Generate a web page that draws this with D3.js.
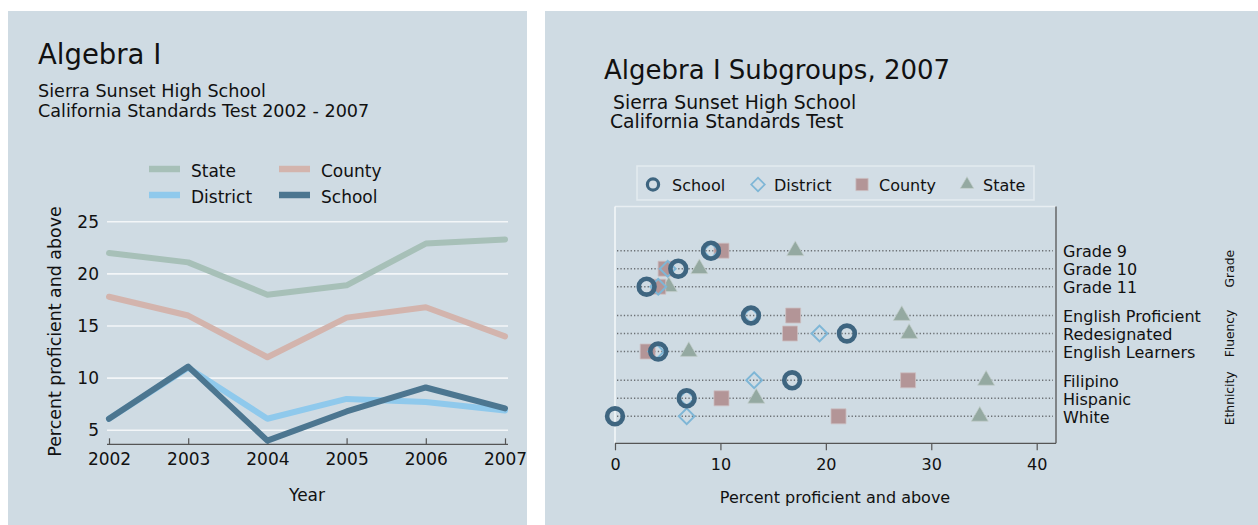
<!DOCTYPE html>
<html>
<head>
<meta charset="utf-8">
<script src="https://cdn.jsdelivr.net/npm/d3@7"></script>
<style>
  html, body { margin: 0; padding: 0; background: #fff; }
  svg { display: block; font-family: "DejaVu Sans", sans-serif; }
</style>
</head>
<body>
<div id="chart"></div>
<script>
// left chart: trend lines
const years = [2002, 2003, 2004, 2005, 2006, 2007];
const stateVals = [22.0, 21.1, 18.0, 18.9, 22.9, 23.3];
const countyVals = [17.8, 16.0, 12.0, 15.8, 16.8, 14.0];
const districtVals = [6.1, 11.0, 6.1, 8.0, 7.7, 6.9];
const schoolVals = [6.1, 11.1, 4.0, 6.8, 9.1, 7.1];
const yTicks = [5, 10, 15, 20, 25];

// right chart: subgroups 2007
const groupNames = ['Grade', 'Fluency', 'Ethnicity'];
const subgroups = ['Grade 9', 'Grade 10', 'Grade 11',
  'English Proficient', 'Redesignated', 'English Learners',
  'Filipino', 'Hispanic', 'White'];
const subgroupGroup = [0, 0, 0, 1, 1, 1, 2, 2, 2];
const schoolPct = [9.1, 6.0, 3.0, 12.9, 22.0, 4.1, 16.8, 6.8, 0.0];
const districtPct = [9.1, 5.0, 4.1, 12.9, 19.4, 3.9, 13.2, 6.8, 6.8];
const countyPct = [10.1, 4.8, 4.1, 16.9, 16.6, 3.1, 27.8, 10.1, 21.2];
const statePct = [17.1, 8.0, 5.1, 27.2, 27.9, 7.0, 35.2, 13.4, 34.6];
const xTicks = [0, 10, 20, 30, 40];

const bg = '#cfdbe3';
const ink = '#111';

const svg = d3.select('#chart').append('svg')
  .attr('width', 1258)
  .attr('height', 525);

svg.append('rect').attr('x', 8).attr('y', 11).attr('width', 519).attr('height', 514).attr('fill', bg);
svg.append('rect').attr('x', 545).attr('y', 11).attr('width', 713).attr('height', 514).attr('fill', bg);

/* ---------- left panel ---------- */
const left = svg.append('g');

left.append('text').attr('x', 38).attr('y', 64)
  .attr('font-size', 27.5).attr('fill', ink).text('Algebra I');
left.append('text').attr('x', 38).attr('y', 97)
  .attr('font-size', 17.6).attr('fill', ink).text('Sierra Sunset High School');
left.append('text').attr('x', 38).attr('y', 117)
  .attr('font-size', 17.6).attr('fill', ink).text('California Standards Test 2002 - 2007');

const x = d3.scaleLinear().domain([2002, 2007]).range([109, 505]);
const y = d3.scaleLinear().domain([3.65, 25]).range([444.3, 221.7]);

left.append('g')
  .selectAll('line')
  .data(yTicks)
  .enter()
  .append('line')
  .attr('x1', 107).attr('x2', 508)
  .attr('y1', (d) => y(d)).attr('y2', (d) => y(d))
  .attr('stroke', '#f3f6f8')
  .attr('stroke-width', 1.6);

const yAxis = left.append('g')
  .attr('transform', 'translate(107,0)')
  .call(d3.axisLeft(y).tickValues(yTicks).tickSize(0).tickPadding(8));
yAxis.select('.domain').remove();
yAxis.selectAll('text').attr('font-size', 17).attr('fill', ink).attr('font-family', 'DejaVu Sans');

const xAxis = left.append('g')
  .attr('transform', 'translate(0,444.3)')
  .call(d3.axisBottom(x).tickValues(years).tickFormat(d3.format('d')).tickSizeInner(-6).tickSizeOuter(0).tickPadding(8.5));
xAxis.select('.domain').attr('d', 'M107,0H508').attr('stroke', '#555').attr('stroke-width', 1.3);
xAxis.selectAll('.tick line').attr('stroke', '#555').attr('stroke-width', 1.2);
xAxis.selectAll('text').attr('font-size', 17).attr('fill', ink).attr('font-family', 'DejaVu Sans');

left.append('text')
  .attr('transform', 'translate(61,331.5) rotate(-90)')
  .attr('text-anchor', 'middle')
  .attr('font-size', 17.4).attr('fill', ink)
  .text('Percent proficient and above');
left.append('text').attr('x', 307).attr('y', 501)
  .attr('text-anchor', 'middle').attr('font-size', 17).attr('fill', ink).text('Year');

const lineSeries = [
  { name: 'State', values: stateVals, color: '#a7c0b8' },
  { name: 'County', values: countyVals, color: '#d3b4ad' },
  { name: 'District', values: districtVals, color: '#8fc9ec' },
  { name: 'School', values: schoolVals, color: '#4c7690' },
];

const line = d3.line()
  .x((d, i) => x(years[i]))
  .y((d) => y(d));

left.append('g')
  .selectAll('path')
  .data(lineSeries)
  .enter()
  .append('path')
  .attr('d', (d) => line(d.values))
  .attr('fill', 'none')
  .attr('stroke', (d) => d.color)
  .attr('stroke-width', 6)
  .attr('stroke-linejoin', 'round')
  .attr('stroke-linecap', 'round');

// legend 2x2
const legPos = [[149, 169], [279, 169], [149, 195], [279, 195]];
const leg = left.append('g')
  .selectAll('g')
  .data(lineSeries)
  .enter()
  .append('g')
  .attr('transform', (d, i) => `translate(${legPos[i][0]},${legPos[i][1]})`);
leg.append('line')
  .attr('x1', 0).attr('x2', 31)
  .attr('stroke', (d) => d.color)
  .attr('stroke-width', 6.5);
leg.append('text')
  .attr('x', 42).attr('y', 7.5)
  .attr('font-size', 17).attr('fill', ink)
  .text((d) => d.name);

/* ---------- right panel ---------- */
const right = svg.append('g');

right.append('text').attr('x', 604).attr('y', 79)
  .attr('font-size', 26).attr('fill', ink).text('Algebra I Subgroups, 2007');
right.append('text').attr('x', 613).attr('y', 109)
  .attr('font-size', 18.8).attr('fill', ink).text('Sierra Sunset High School');
right.append('text').attr('x', 610).attr('y', 128)
  .attr('font-size', 18.8).attr('fill', ink).text('California Standards Test');

const px = d3.scaleLinear().domain([0, 40]).range([615, 1036.7]);
const rowPos = subgroups.map((s, i) => i + subgroupGroup[i] * 0.6);
const py = d3.scaleLinear().domain([0, 9.2]).range([250.7, 416.3]);

const plotTop = 206.5;
const plotBottom = 443.3;
const plotRight = 1056;

right.append('line')
  .attr('x1', 615).attr('x2', plotRight).attr('y1', plotTop).attr('y2', plotTop)
  .attr('stroke', '#e8eef2').attr('stroke-width', 1.5);
right.append('line')
  .attr('x1', 615).attr('x2', 615).attr('y1', plotTop).attr('y2', plotBottom)
  .attr('stroke', '#f5f8fa').attr('stroke-width', 1.5);
right.append('line')
  .attr('x1', plotRight).attr('x2', plotRight).attr('y1', plotTop).attr('y2', plotBottom)
  .attr('stroke', '#555').attr('stroke-width', 1.3);

// dotted row lines
right.append('g')
  .selectAll('line')
  .data(subgroups)
  .enter()
  .append('line')
  .attr('x1', 617).attr('x2', 1053)
  .attr('y1', (d, i) => py(rowPos[i])).attr('y2', (d, i) => py(rowPos[i]))
  .attr('stroke', '#6b7074')
  .attr('stroke-width', 1.4)
  .attr('stroke-dasharray', '1.3,2.1');

const pxAxis = right.append('g')
  .attr('transform', `translate(0,${plotBottom})`)
  .call(d3.axisBottom(px).tickValues(xTicks).tickSizeInner(7).tickSizeOuter(0).tickPadding(8));
pxAxis.select('.domain').attr('d', `M615,0H${plotRight}`).attr('stroke', '#555').attr('stroke-width', 1.3);
pxAxis.selectAll('.tick line').attr('stroke', '#555').attr('stroke-width', 1.2);
pxAxis.selectAll('text').attr('font-size', 16).attr('fill', ink).attr('font-family', 'DejaVu Sans');

right.append('text').attr('x', 835).attr('y', 503)
  .attr('text-anchor', 'middle').attr('font-size', 16).attr('fill', ink)
  .text('Percent proficient and above');

// row labels on the right
right.append('g')
  .selectAll('text')
  .data(subgroups)
  .enter()
  .append('text')
  .attr('x', 1063)
  .attr('y', (d, i) => py(rowPos[i]))
  .attr('dy', '0.42em')
  .attr('font-size', 16)
  .attr('fill', ink)
  .text((d) => d);

right.append('g')
  .selectAll('text')
  .data(groupNames)
  .enter()
  .append('text')
  .attr('transform', (d, g) => {
    const idx = subgroupGroup.map((v, i) => (v === g ? rowPos[i] : null)).filter((v) => v !== null);
    const cy = (py(d3.min(idx)) + py(d3.max(idx))) / 2;
    return `translate(1234,${cy}) rotate(-90)`;
  })
  .attr('text-anchor', 'middle')
  .attr('font-size', 12.3)
  .attr('fill', ink)
  .text((d) => d);

const markerStyles = {
  School: (sel, big) => sel.append('circle')
    .attr('r', big ? 7.9 : 5.6)
    .attr('fill', 'none')
    .attr('stroke', '#3e6580')
    .attr('stroke-width', big ? 4.6 : 3.2),
  District: (sel, big) => sel.append('path')
    .attr('d', d3.symbol(d3.symbolSquare, big ? 124 : 92)())
    .attr('transform', 'rotate(45)')
    .attr('fill', 'none')
    .attr('stroke', '#7eb6d6')
    .attr('stroke-width', big ? 2 : 1.7),
  County: (sel, big) => sel.append('path')
    .attr('d', d3.symbol(d3.symbolSquare, big ? 225 : 150)())
    .attr('fill', '#b39597')
    .attr('stroke', '#cdbfc1')
    .attr('stroke-width', 0.8),
  State: (sel, big) => sel.append('path')
    .attr('d', d3.symbol(d3.symbolTriangle, big ? 125 : 78)())
    .attr('fill', '#94a9a1')
    .attr('stroke', '#c3cfcc')
    .attr('stroke-width', 0.7),
};

const pointSeries = [
  { name: 'State', values: statePct },
  { name: 'County', values: countyPct },
  { name: 'District', values: districtPct },
  { name: 'School', values: schoolPct },
];

pointSeries.forEach((s) => {
  const pts = right.append('g')
    .selectAll('g')
    .data(s.values)
    .enter()
    .append('g')
    .attr('transform', (d, i) => `translate(${px(d)},${py(rowPos[i])})`);
  markerStyles[s.name](pts, true);
});

// legend box
right.append('rect')
  .attr('x', 637).attr('y', 166)
  .attr('width', 397).attr('height', 34)
  .attr('fill', '#d2dde5')
  .attr('stroke', '#e4ebf0')
  .attr('stroke-width', 1.5);

const legendItems = [
  { name: 'School', mx: 653, tx: 672 },
  { name: 'District', mx: 758, tx: 774 },
  { name: 'County', mx: 862, tx: 879 },
  { name: 'State', mx: 967, tx: 983 },
];
const rleg = right.append('g')
  .selectAll('g')
  .data(legendItems)
  .enter()
  .append('g');
rleg.each(function (d) {
  const m = d3.select(this).append('g').attr('transform', `translate(${d.mx},184.5)`);
  markerStyles[d.name](m, false);
});
rleg.append('text')
  .attr('x', (d) => d.tx)
  .attr('y', 191)
  .attr('font-size', 16)
  .attr('fill', ink)
  .text((d) => d.name);
</script>
</body>
</html>
